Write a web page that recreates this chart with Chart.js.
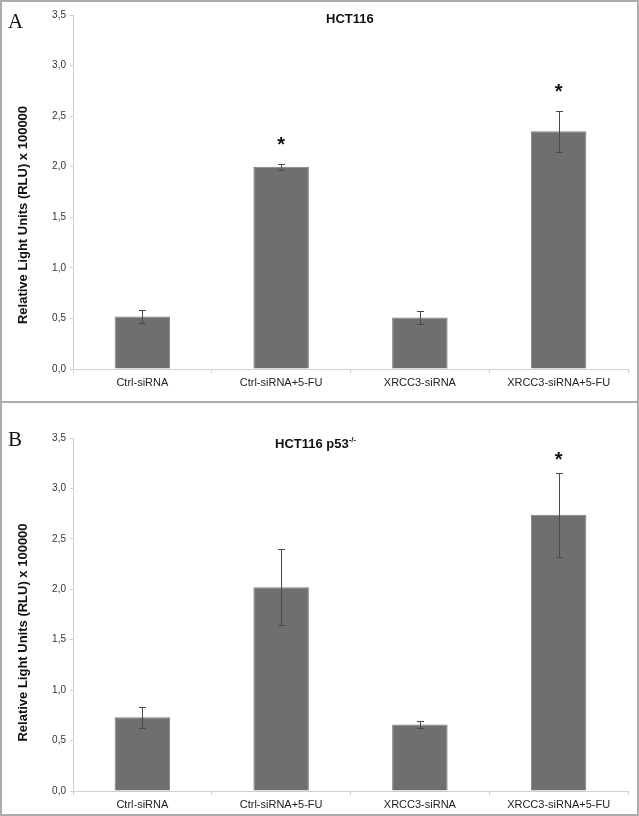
<!DOCTYPE html>
<html>
<head>
<meta charset="utf-8">
<script src="https://cdn.jsdelivr.net/npm/chart.js@4.4.1/dist/chart.umd.min.js"></script>
<style>
  html, body { margin: 0; padding: 0; background: #fff; }
  #page { position: relative; width: 639px; height: 816px; overflow: hidden; background: #fff; }
  canvas { position: absolute; left: 0; }
  .frame { position: absolute; box-sizing: border-box; border: 2px solid #acacac; pointer-events: none; }
  .letter { position: absolute; font-family: "Liberation Serif", "DejaVu Serif", serif; font-size: 21px; color: #111; line-height: 1; }
  .ttl { position: absolute; font-family: "Liberation Sans", Arial, sans-serif; font-weight: bold; font-size: 13px; color: #111; line-height: 1; white-space: nowrap; }
  .ttl sup { font-size: 8px; vertical-align: 6px; line-height: 0; }
</style>
</head>
<body>
<div id="page">
  <canvas id="chartA" width="639" height="400" style="top:0"></canvas>
  <canvas id="chartB" width="639" height="414" style="top:402px"></canvas>
  <div class="frame" style="left:0;top:0;width:639px;height:403px;"></div>
  <div class="frame" style="left:0;top:401px;width:639px;height:415px;"></div>
  <div class="letter" style="left:8px;top:11px;">A</div>
  <div class="letter" style="left:8px;top:429px;">B</div>
  <div class="ttl" style="left:326px;top:12px;">HCT116</div>
  <div class="ttl" style="left:275px;top:437px;">HCT116 p53<sup>-/-</sup></div>
</div>
<script>
// ---- data ----
const categories = ['Ctrl-siRNA', 'Ctrl-siRNA+5-FU', 'XRCC3-siRNA', 'XRCC3-siRNA+5-FU'];
const valuesA = [0.52, 2.00, 0.51, 2.35];
const errorsA = [0.065, 0.028, 0.063, 0.20];
const starsA  = [false, true, false, true];
const valuesB = [0.73, 2.02, 0.66, 2.74];
const errorsB = [0.105, 0.375, 0.035, 0.415];
const starsB  = [false, false, false, true];
const yTickLabels = ['0,0', '0,5', '1,0', '1,5', '2,0', '2,5', '3,0', '3,5'];
const yTitle = 'Relative Light Units (RLU) x 100000';

const annotPlugin = {
  id: 'annot',
  afterDatasetsDraw(chart, args, opts) {
    const ctx = chart.ctx;
    const meta = chart.getDatasetMeta(0);
    const ys = chart.scales.y;
    const vals = opts.values, errs = opts.errors, stars = opts.stars;
    ctx.save();
    ctx.strokeStyle = '#4a4a4a';
    ctx.lineWidth = 1;
    meta.data.forEach((bar, i) => {
      const x = Math.round(bar.x) + 0.5;
      const yt = Math.round(ys.getPixelForValue(vals[i] + errs[i])) + 0.5;
      const yb = Math.round(ys.getPixelForValue(vals[i] - errs[i])) + 0.5;
      ctx.beginPath();
      ctx.moveTo(x, yt); ctx.lineTo(x, yb);
      ctx.moveTo(x - 3.5, yt); ctx.lineTo(x + 3.5, yt);
      ctx.moveTo(x - 3.5, yb); ctx.lineTo(x + 3.5, yb);
      ctx.stroke();
      if (stars[i]) {
        ctx.fillStyle = '#111';
        ctx.font = 'bold 20px "Liberation Sans", Arial, sans-serif';
        ctx.textAlign = 'center';
        ctx.textBaseline = 'top';
        ctx.fillText('*', bar.x, yt - opts.starGap);
      }
    });
    // y-axis title
    const ca = chart.chartArea;
    ctx.save();
    ctx.translate(opts.titleX, (ca.top + ca.bottom) / 2 + opts.titleShift);
    ctx.rotate(-Math.PI / 2);
    ctx.fillStyle = '#111';
    ctx.font = 'bold 13px "Liberation Sans", Arial, sans-serif';
    ctx.textAlign = 'center';
    ctx.textBaseline = 'middle';
    ctx.fillText(yTitle, 0, 0);
    ctx.restore();
    ctx.restore();
  }
};

function makeChart(id, values, errors, stars, padTop, xHeight, titleShift, starGap) {
  return new Chart(document.getElementById(id), {
    type: 'bar',
    data: {
      labels: categories,
      datasets: [{
        data: values,
        backgroundColor: '#6f6f6f',
        borderColor: '#7e7e7e',
        borderWidth: 1,
        categoryPercentage: 0.8,
        barPercentage: 0.5
      }]
    },
    options: {
      responsive: false,
      devicePixelRatio: 1,
      animation: false,
      layout: { padding: { left: 0, right: 11, top: padTop, bottom: 0 } },
      plugins: {
        legend: { display: false },
        tooltip: { enabled: false },
        title: { display: false },
        annot: { values, errors, stars, titleX: 23, titleShift, starGap }
      },
      scales: {
        x: {
          afterFit(s) { s.height = xHeight; },
          grid: { display: true, drawOnChartArea: false, drawTicks: true, tickLength: 4, color: '#cfcfcf', offset: true },
          border: { display: true, color: '#cfcfcf', width: 1 },
          ticks: { color: '#222', padding: 3, maxRotation: 0, autoSkip: false,
                   font: { family: '"Liberation Sans", Arial, sans-serif', size: 11 } }
        },
        y: {
          min: 0, max: 3.5,
          afterFit(s) { s.width = 73; },
          grid: { display: true, drawOnChartArea: false, drawTicks: true, tickLength: 3, color: '#cfcfcf' },
          border: { display: true, color: '#cfcfcf', width: 1 },
          ticks: { stepSize: 0.5, color: '#333', padding: 4,
                   font: { family: '"Liberation Sans", Arial, sans-serif', size: 10 },
                   callback: (v, i) => yTickLabels[i] }
        }
      }
    },
    plugins: [annotPlugin]
  });
}

makeChart('chartA', valuesA, errorsA, starsA, 15, 31, 23, 29);
makeChart('chartB', valuesB, errorsB, starsB, 36, 25, 18, 23);
</script>
</body>
</html>
